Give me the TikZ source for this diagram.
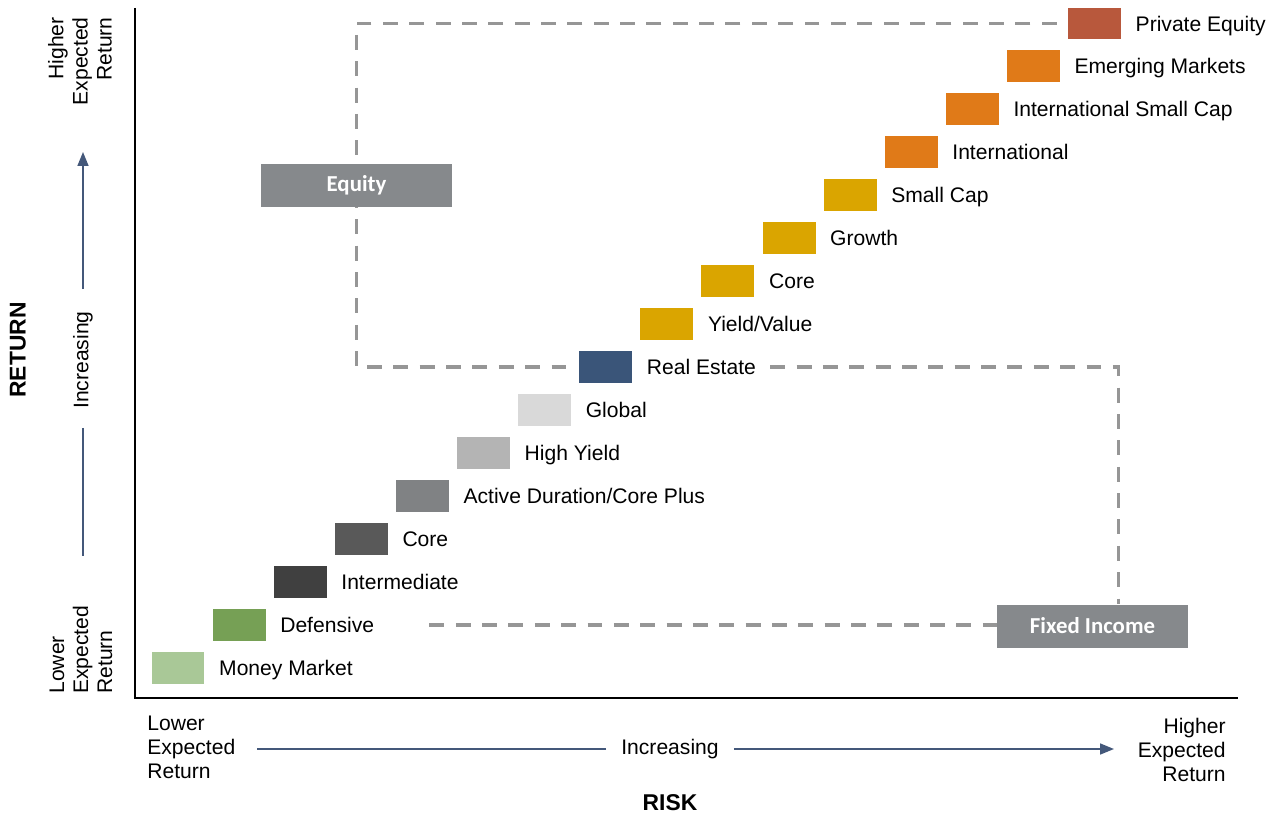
\documentclass[tikz,border=0pt]{standalone}
\usepackage{fontspec}
\setmainfont{Liberation Sans}
\newfontfamily\calibri{Carlito}
\usetikzlibrary{positioning,arrows.meta,backgrounds}

\definecolor{mmgreen}{RGB}{169,200,151}
\definecolor{defgreen}{RGB}{118,160,85}
\definecolor{intgrey}{RGB}{64,64,64}
\definecolor{coregrey}{RGB}{89,89,89}
\definecolor{adcgrey}{RGB}{128,130,132}
\definecolor{hygrey}{RGB}{180,180,180}
\definecolor{globgrey}{RGB}{217,217,217}
\definecolor{renavy}{RGB}{58,85,121}
\definecolor{eqgold}{RGB}{218,165,0}
\definecolor{eqorange}{RGB}{224,122,24}
\definecolor{pebrick}{RGB}{184,88,60}
\definecolor{classgrey}{RGB}{134,137,140}
\definecolor{dashgrey}{RGB}{150,150,150}
\definecolor{axblue}{RGB}{68,88,122}

\begin{document}
\begin{tikzpicture}[x=0.02cm,y=-0.02cm,
  asset/.style={fill=#1,minimum width=1.06cm,minimum height=0.63cm,inner sep=0pt},
  lbl/.style={inner sep=0pt,text height=8.6pt,text depth=0pt,font=\fontsize{12}{14}\selectfont},
  classbox/.style={fill=classgrey,text=white,minimum width=3.82cm,minimum height=0.86cm,font=\calibri\bfseries\fontsize{13}{15}\selectfont},
  bracket/.style={dashgrey,line width=2.2pt,dash pattern=on 8.5pt off 6.5pt},
  axtext/.style={inner sep=0pt,font=\fontsize{12}{13.7}\selectfont},
  axline/.style={axblue,line width=0.9pt},
  axtip/.style={-{Triangle[length=0.28cm,width=0.22cm]}}]
\useasboundingbox (0,0) rectangle (1277,817);

% axes
\coordinate (otop) at (135,8);
\coordinate (origin) at (135,698);
\coordinate (oright) at (1238,698);
\draw[line width=1.7pt] (otop) -- (origin) -- (oright);

% fixed income steps
\node[asset=mmgreen] (bMM) at (178,668) {};
\node[lbl,right=0.28cm of bMM] (tMM) {Money Market};
\node[asset=defgreen] (bDef) at (239.1,625) {};
\node[lbl,right=0.28cm of bDef] (tDef) {Defensive};
\node[asset=intgrey] (bInt) at (300.2,582) {};
\node[lbl,right=0.28cm of bInt] (tInt) {Intermediate};
\node[asset=coregrey] (bCoreF) at (361.3,539) {};
\node[lbl,right=0.28cm of bCoreF] (tCoreF) {Core};
\node[asset=adcgrey] (bADC) at (422.4,496) {};
\node[lbl,right=0.28cm of bADC] (tADC) {Active Duration/Core Plus};
\node[asset=hygrey] (bHY) at (483.5,453) {};
\node[lbl,right=0.28cm of bHY] (tHY) {High Yield};
\node[asset=globgrey] (bGlob) at (544.6,410) {};
\node[lbl,right=0.28cm of bGlob] (tGlob) {Global};
\node[asset=renavy] (bRE) at (605.7,367) {};
\node[lbl,right=0.28cm of bRE] (tRE) {Real Estate};

% equity steps
\node[asset=eqgold] (bYV) at (666.8,324) {};
\node[lbl,right=0.28cm of bYV] (tYV) {Yield/Value};
\node[asset=eqgold] (bCoreE) at (727.9,281) {};
\node[lbl,right=0.28cm of bCoreE] (tCoreE) {Core};
\node[asset=eqgold] (bGro) at (789,238) {};
\node[lbl,right=0.28cm of bGro] (tGro) {Growth};
\node[asset=eqgold] (bSC) at (850.1,195) {};
\node[lbl,right=0.28cm of bSC] (tSC) {Small Cap};
\node[asset=eqorange] (bIntl) at (911.2,152) {};
\node[lbl,right=0.28cm of bIntl] (tIntl) {International};
\node[asset=eqorange] (bISC) at (972.3,109) {};
\node[lbl,right=0.28cm of bISC] (tISC) {International Small Cap};
\node[asset=eqorange] (bEM) at (1033.4,66) {};
\node[lbl,right=0.28cm of bEM] (tEM) {Emerging Markets};
\node[asset=pebrick] (bPE) at (1094.5,23.5) {};
\node[lbl,right=0.28cm of bPE] (tPE) {Private Equity};

% class boxes
\node[classbox] (equity) at (356.5,185.5) {Equity};
\node[classbox] (fixed) at (1092.5,626) {Fixed Income};
\coordinate (eqcorner) at (equity |- bRE);

\begin{scope}[on background layer]
\draw[bracket] ([xshift=-0.22cm]bPE.west) -| (eqcorner) -- ([xshift=-0.08cm]bRE.west);
\draw[bracket] ([xshift=0.28cm]tRE.east) -| ([xshift=0.52cm]fixed.north);
\draw[bracket] ([xshift=1.1cm]tDef.east) -- (tDef.east -| fixed.west);
\end{scope}

% return axis
\node[axtext,font=\bfseries\fontsize{13}{15}\selectfont,rotate=90] (retlbl) at (18,350) {RETURN};
\node[axtext,rotate=90] (incR) at (83,360) {Increasing};
\coordinate (rtop) at (83,152);
\coordinate (rbot) at (83,556);
\draw[axline,axtip,shorten <=0.44cm] (incR.east) -- (rtop);
\draw[axline,shorten <=0.38cm] (incR.west) -- (rbot);
\node[axtext,rotate=90,align=right,anchor=east] (hiR) at (80,17) {Higher\\Expected\\Return};
\node[axtext,rotate=90,align=left,anchor=west] (loR) at (81,694) {Lower\\Expected\\Return};

% risk axis
\node[axtext,align=left,anchor=west] (loK) at (147,747) {Lower\\Expected\\Return};
\node[axtext] (incK) at (670,749) {Increasing};
\coordinate (kleft) at (257,749);
\coordinate (kright) at (1114,749);
\draw[axline,shorten <=0.3cm] (incK.west) -- (kleft);
\draw[axline,axtip,shorten <=0.3cm] (incK.east) -- (kright);
\node[axtext,align=right,anchor=east] (hiK) at (1226,750) {Higher\\Expected\\Return};
\node[axtext,font=\bfseries\fontsize{13}{15}\selectfont] (riskK) at (670,803) {RISK};
\end{tikzpicture}
\end{document}
